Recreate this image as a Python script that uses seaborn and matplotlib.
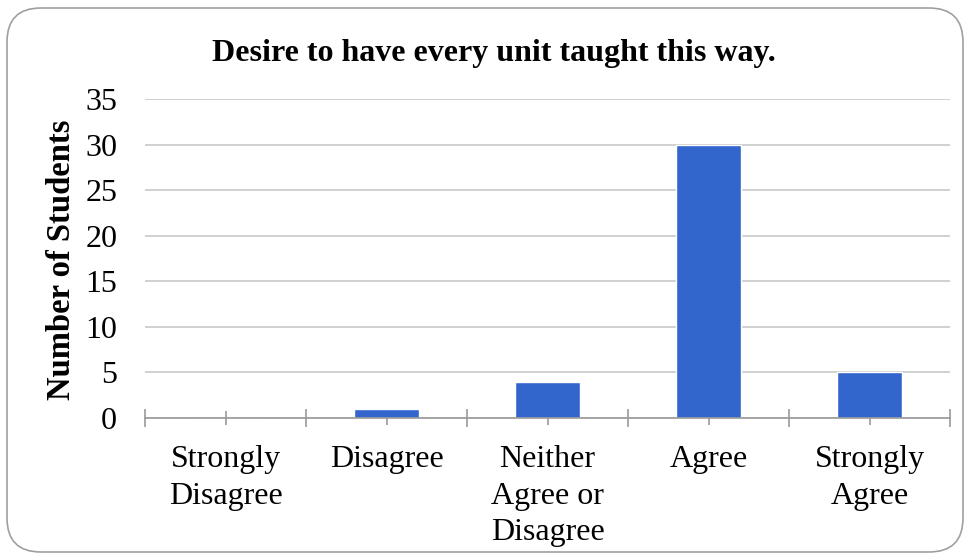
import matplotlib

matplotlib.use("Agg")
import matplotlib.pyplot as plt
import pandas as pd
import seaborn as sns
from matplotlib.patches import FancyBboxPatch

categories = [
    "Strongly\nDisagree",
    "Disagree",
    "Neither\nAgree or\nDisagree",
    "Agree",
    "Strongly\nAgree",
]
students = [0, 1, 4, 30, 5]
y_ticks = [0, 5, 10, 15, 20, 25, 30, 35]

df = pd.DataFrame({"response": categories, "count": students})

sns.set_style("white")
plt.rcParams["font.family"] = ["Liberation Serif", "DejaVu Serif"]
plt.rcParams["text.color"] = "black"
plt.rcParams["xtick.color"] = "black"
plt.rcParams["ytick.color"] = "black"

fig = plt.figure(figsize=(9.69, 5.59), dpi=100)
ax = fig.add_axes([145 / 969, 1 - 418 / 559, 805 / 969, 319 / 559])

sns.barplot(data=df, x="response", y="count", order=categories,
            color="#3366CC", width=0.4, saturation=1, ax=ax)

ax.set_xlim(-0.5, 4.5)
ax.set_ylim(0, 35)
ax.set_yticks(y_ticks)
ax.grid(axis="y", color="#C8C8C8", linewidth=1.2)
ax.set_axisbelow(True)
for side in ["top", "right", "left"]:
    ax.spines[side].set_visible(False)
ax.spines["bottom"].set_color("#999999")
ax.spines["bottom"].set_linewidth(1.2)

ax.set_xticks(range(len(categories)))
ax.set_xticklabels(categories, fontsize=23, linespacing=1.35)
ax.set_xticks([i - 0.5 for i in range(len(categories) + 1)], minor=True)
ax.tick_params(axis="x", which="both", bottom=True)
ax.tick_params(axis="x", which="major", direction="inout", length=10,
               width=1.2, color="#999999", labelcolor="black", pad=14.5)
ax.tick_params(axis="x", which="minor", direction="inout", length=13,
               width=1.2, color="#999999")
ax.tick_params(axis="y", length=0, pad=20, labelsize=23, labelcolor="black")
for lab in ax.get_xticklabels():
    lab.set_verticalalignment("top")
ax.set_xlabel("")
ax.set_ylabel("")

fig.text(494 / 969, 1 - 53 / 559, "Desire to have every unit taught this way.",
         ha="center", va="center", fontsize=23, fontweight="bold")
fig.text(62 / 969, 1 - 260 / 559, "Number of Students", rotation=90,
         ha="center", va="center", fontsize=23.5, fontweight="bold")

frame = FancyBboxPatch((7 / 969, 7 / 559), 956 / 969, 544 / 559,
                       boxstyle="round,pad=0,rounding_size=0.035",
                       transform=fig.transFigure, fill=False,
                       edgecolor="#A0A0A0", linewidth=1.2,
                       mutation_aspect=969 / 559)
fig.patches.append(frame)

fig.savefig("out.png", dpi=100)
